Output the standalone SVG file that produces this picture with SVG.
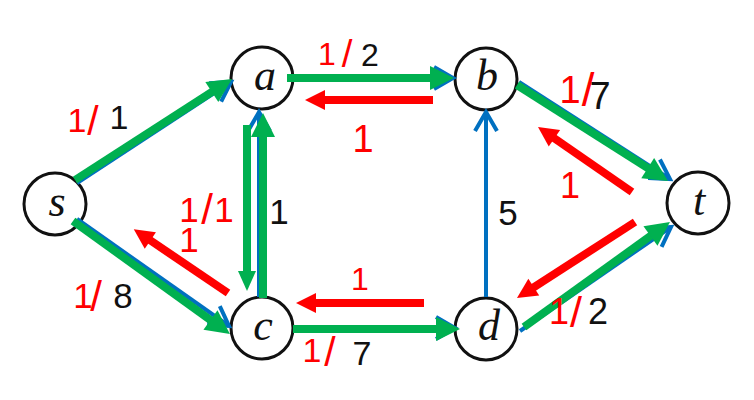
<svg xmlns="http://www.w3.org/2000/svg" width="754" height="400" viewBox="0 0 754 400">
<style>
.node circle{fill:#fff;stroke:#111;stroke-width:3}
.node text{font-family:"Liberation Serif","DejaVu Serif",serif;font-style:italic;font-size:44px;fill:#111;text-anchor:middle}
.g{stroke:#00B050;stroke-width:8;fill:none}
.r{stroke:#FF0000;stroke-width:8;fill:none}
.b{stroke:#0070C0;stroke-width:4;fill:none}
.lbl{font-family:"Liberation Sans","Arial",sans-serif;text-anchor:middle}
.red{fill:#FF0000}
.blk{fill:#111}
.sl{font-size:1.2em}
</style>
<defs>
<marker id="gh" markerUnits="userSpaceOnUse" markerWidth="26" markerHeight="26" refX="2" refY="12" orient="auto" overflow="visible"><path d="M0,0 L24,12 L0,24 z" fill="#00B050"/></marker>
<marker id="gs" markerUnits="userSpaceOnUse" markerWidth="22" markerHeight="20" refX="2" refY="9" orient="auto" overflow="visible"><path d="M0,0 L20,9 L0,18 z" fill="#00B050"/></marker>
<marker id="rh" markerUnits="userSpaceOnUse" markerWidth="22" markerHeight="22" refX="2" refY="10" orient="auto" overflow="visible"><path d="M0,0 L20,10 L0,20 z" fill="#FF0000"/></marker>
<marker id="bh" markerUnits="userSpaceOnUse" markerWidth="26" markerHeight="26" refX="21" refY="12" orient="auto" overflow="visible"><path d="M2,1 L21,12 L2,23" fill="none" stroke="#0070C0" stroke-width="4"/></marker>
</defs>

<g id="node-s" class="node"><circle cx="55" cy="204" r="31"/><text x="57" y="216">s</text></g>
<g id="node-a" class="node"><circle cx="262" cy="78" r="31"/><text x="265" y="90">a</text></g>
<g id="node-b" class="node"><circle cx="486" cy="79" r="31"/><text x="487" y="90">b</text></g>
<g id="node-c" class="node"><circle cx="262" cy="328" r="31"/><text x="263" y="340">c</text></g>
<g id="node-d" class="node"><circle cx="486" cy="329" r="31"/><text x="489" y="340">d</text></g>
<g id="node-t" class="node"><circle cx="698" cy="203" r="31"/><text x="699" y="215">t</text></g>

<g id="connectors">
<line class="b" x1="77" y1="183" x2="231" y2="82" marker-end="url(#bh)"/>
<line class="b" x1="77" y1="219" x2="229" y2="326" marker-end="url(#bh)"/>
<line class="b" x1="287" y1="78" x2="453" y2="78" marker-end="url(#bh)"/>
<line class="b" x1="259" y1="297" x2="259" y2="112" marker-end="url(#bh)"/>
<line class="b" x1="293" y1="328" x2="455" y2="328" marker-end="url(#bh)"/>
<line class="b" x1="486" y1="297" x2="486" y2="112" marker-end="url(#bh)"/>
<line class="b" x1="519" y1="82" x2="670" y2="179" marker-end="url(#bh)"/>
<line class="b" x1="520" y1="331" x2="671" y2="227" marker-end="url(#bh)"/>
<line class="g" x1="75" y1="180" x2="213.5" y2="90.9" marker-end="url(#gh)"/>
<line class="g" x1="287" y1="78" x2="432" y2="78" marker-end="url(#gh)"/>
<line class="g" x1="247" y1="125" x2="247" y2="273" marker-end="url(#gs)"/>
<line class="g" x1="263" y1="298" x2="263" y2="135" marker-end="url(#gh)"/>
<line class="g" x1="73" y1="221" x2="212.1" y2="321.2" marker-end="url(#gh)"/>
<line class="g" x1="293" y1="329" x2="438" y2="329" marker-end="url(#gh)"/>
<line class="g" x1="517" y1="85" x2="649.4" y2="169.2" marker-end="url(#gh)"/>
<line class="g" x1="524" y1="327" x2="652.1" y2="234.8" marker-end="url(#gh)"/>
<line class="r" x1="433" y1="100" x2="323" y2="100" marker-end="url(#rh)"/>
<line class="r" x1="228" y1="293" x2="148.7" y2="239.3" marker-end="url(#rh)"/>
<line class="r" x1="424" y1="303" x2="314" y2="303" marker-end="url(#rh)"/>
<line class="r" x1="632" y1="192" x2="552.8" y2="137.2" marker-end="url(#rh)"/>
<line class="r" x1="635" y1="222" x2="532.1" y2="288.3" marker-end="url(#rh)"/>
</g>

<g id="labels">
<text class="lbl" font-size="34"><tspan class="red" x="77" y="132">1</tspan><tspan class="red sl" x="93" y="135">/</tspan><tspan class="blk" x="119" y="129">1</tspan></text>
<text class="lbl" font-size="32"><tspan class="red" x="327" y="65">1</tspan><tspan class="red sl" x="347" y="67">/</tspan><tspan class="blk" x="370" y="66">2</tspan></text>
<text class="lbl red" font-size="38" x="363" y="152">1</text>
<text class="lbl" font-size="35"><tspan class="red" x="189" y="222">1</tspan><tspan class="red sl" x="207" y="224">/</tspan><tspan class="red" x="224" y="222">1</tspan></text>
<text class="lbl red" font-size="35" x="189" y="252">1</text>
<text class="lbl blk" font-size="35" x="279" y="224">1</text>
<text class="lbl" font-size="35"><tspan class="red" x="83" y="308">1</tspan><tspan class="red sl" x="96" y="311">/</tspan><tspan class="blk" x="123" y="308">8</tspan></text>
<text class="lbl red" font-size="32" x="360" y="290">1</text>
<text class="lbl" font-size="34"><tspan class="red" x="312" y="362">1</tspan><tspan class="red sl" x="330" y="366">/</tspan><tspan class="blk" x="362" y="365">7</tspan></text>
<text class="lbl blk" font-size="35" x="508" y="225">5</text>
<text class="lbl" font-size="38"><tspan class="red" x="570" y="103">1</tspan><tspan class="red sl" x="588" y="106">/</tspan><tspan class="blk" x="600" y="109">7</tspan></text>
<text class="lbl red" font-size="36" x="570" y="198">1</text>
<text class="lbl" font-size="36"><tspan class="red" x="559" y="324">1</tspan><tspan class="red sl" x="576" y="327">/</tspan><tspan class="blk" x="598" y="324">2</tspan></text>
</g>
</svg>
